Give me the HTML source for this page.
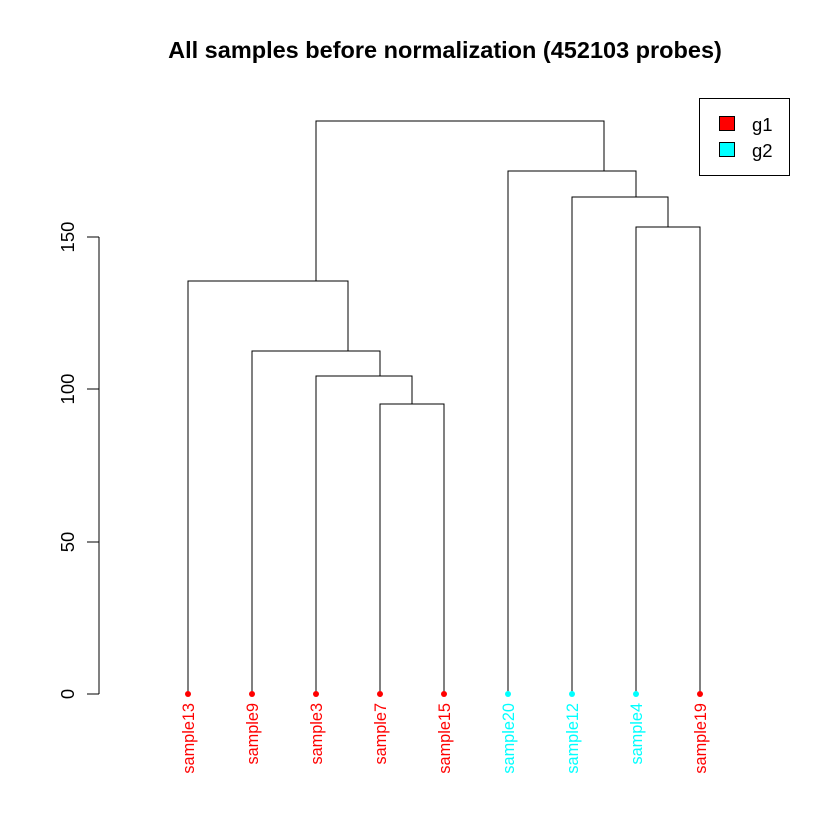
<!DOCTYPE html>
<html><head><meta charset="utf-8"><style>body{margin:0;background:#fff}svg{display:block}</style></head>
<body>
<svg width="840" height="840" xmlns="http://www.w3.org/2000/svg" font-family="Liberation Sans, sans-serif">
<rect width="840" height="840" fill="#fff"/>
<text x="445" y="58" font-size="23.5" font-weight="bold" text-anchor="middle">All samples before normalization (452103 probes)</text>
<g stroke="#000" stroke-width="1" fill="none">
<path d="M99 237V694M87 237H99M87 389H99M87 542H99M87 694H99"/>
<path d="M316 281V121H604V171"/>
<path d="M188 694V281H348V351"/>
<path d="M252 694V351H380V376"/>
<path d="M316 694V376H412V404"/>
<path d="M380 694V404H444V694"/>
<path d="M508 694V171H636V197"/>
<path d="M572 694V197H668V227"/>
<path d="M636 694V227H700V694"/>
<rect x="699.5" y="98.5" width="90" height="77"/>
</g>
<g font-size="18.5" text-anchor="middle">
<text transform="translate(74,694) rotate(-90)">0</text>
<text transform="translate(74,542) rotate(-90)">50</text>
<text transform="translate(74,389) rotate(-90)">100</text>
<text transform="translate(74,237) rotate(-90)">150</text>
</g>
<rect x="719.5" y="116.5" width="15" height="14" fill="#f00" stroke="#000"/>
<rect x="719.5" y="142.5" width="15" height="14" fill="#0ff" stroke="#000"/>
<text x="752" y="131" font-size="18.5">g1</text>
<text x="752" y="157" font-size="18.5">g2</text>
<g>
<circle cx="188" cy="694" r="3" fill="#f00"/>
<circle cx="252" cy="694" r="3" fill="#f00"/>
<circle cx="316" cy="694" r="3" fill="#f00"/>
<circle cx="380" cy="694" r="3" fill="#f00"/>
<circle cx="444" cy="694" r="3" fill="#f00"/>
<circle cx="508" cy="694" r="3" fill="#0ff"/>
<circle cx="572" cy="694" r="3" fill="#0ff"/>
<circle cx="636" cy="694" r="3" fill="#0ff"/>
<circle cx="700" cy="694" r="3" fill="#f00"/>
</g>
<g font-size="16.3" text-anchor="end">
<text transform="translate(194,703) rotate(-90)" fill="#f00">sample13</text>
<text transform="translate(258,703) rotate(-90)" fill="#f00">sample9</text>
<text transform="translate(322,703) rotate(-90)" fill="#f00">sample3</text>
<text transform="translate(386,703) rotate(-90)" fill="#f00">sample7</text>
<text transform="translate(450,703) rotate(-90)" fill="#f00">sample15</text>
<text transform="translate(514,703) rotate(-90)" fill="#0ff">sample20</text>
<text transform="translate(578,703) rotate(-90)" fill="#0ff">sample12</text>
<text transform="translate(642,703) rotate(-90)" fill="#0ff">sample4</text>
<text transform="translate(706,703) rotate(-90)" fill="#f00">sample19</text>
</g>
</svg>
</body></html>
